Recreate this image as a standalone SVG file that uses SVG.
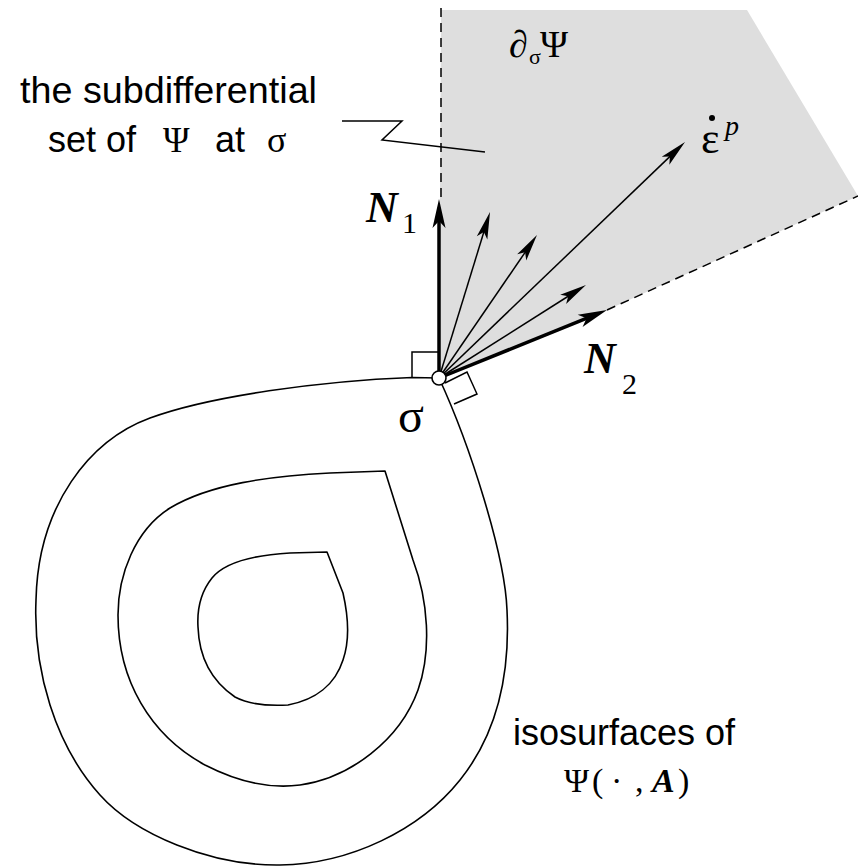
<svg xmlns="http://www.w3.org/2000/svg" width="858" height="866" viewBox="0 0 858 866">
<style>
.curve{fill:none;stroke:#000;stroke-width:1.6;stroke-linejoin:round}
.thin{stroke:#000;stroke-width:1.5;fill:none}
.thick{stroke:#000;stroke-width:3.5;fill:none}
.dash{stroke:#000;stroke-width:1.5;fill:none;stroke-dasharray:9 6}
.sans{font-family:"Liberation Sans",Arial,sans-serif;font-size:36px;fill:#000}
.serif{font-family:"Liberation Serif","Times New Roman",serif;fill:#000}
.bi{font-weight:bold;font-style:italic}
</style>
<defs>
<marker id="ah" viewBox="-30 -8 32 16" markerWidth="32" markerHeight="16" markerUnits="userSpaceOnUse" orient="auto" refX="-15" refY="0" overflow="visible">
<path d="M0,0 L-27,-5.5 L-21,0 L-27,5.5 Z" fill="#000"/>
</marker>
<marker id="ahb" viewBox="-30 -8 32 16" markerWidth="32" markerHeight="16" markerUnits="userSpaceOnUse" orient="auto" refX="-15" refY="0" overflow="visible">
<path d="M0,0 L-29,-6.5 L-22,0 L-29,6.5 Z" fill="#000"/>
</marker>
</defs>
<rect width="858" height="866" fill="#fff"/>
<g id="subdifferential-set">
<polygon points="441,10 747,10 858,196 607,310 439,378" fill="#dedede"/>
<line class="dash" x1="441" y1="8" x2="441" y2="198"/>
<line class="dash" x1="607" y1="310" x2="858" y2="196"/>
<text class="serif" font-size="38" x="509" y="57">∂</text>
<text class="serif" font-size="22" x="529" y="64">σ</text>
<text class="serif" font-size="38" x="540" y="57">Ψ</text>
</g>
<g id="isosurfaces">
<path class="curve" d="M439,378 L412,377.5 C320,381 210,396 150,418 C90,440 38,505 36,600 C33,670 55,745 100,795 C135,834 210,866 280,865 C350,864 420,830 460,780 C500,730 510,670 507,610 C505,555 470,445 439,378 Z"/>
<path class="curve" d="M385,471 L330,473 C270,476 210,484 170,508 C135,530 118,575 118,615 C118,680 150,735 205,765 C240,783 270,789 300,785 C350,778 400,740 418,690 C432,650 428,600 413,560 Z"/>
<path class="curve" d="M327,552 L290,553 C255,555 225,562 212,578 C200,593 197,610 198,627 C199,655 210,680 235,697 C250,705 270,706 288,705 C315,700 335,685 343,660 C350,640 348,615 343,593 Z"/>
<text class="sans" x="513" y="745">isosurfaces of</text>
<text class="serif" font-size="34" y="792"><tspan x="564">Ψ</tspan><tspan x="592">(</tspan><tspan x="611">·</tspan><tspan x="635">,</tspan><tspan x="652" class="bi">A</tspan><tspan x="678">)</tspan></text>
</g>
<g id="right-angles">
<polyline class="thin" points="439,352 412,352 412,377.5"/>
<polyline class="thin" points="445,383 467,372 477,394 454,404"/>
</g>
<g id="connectors">
<line class="thick" x1="439" y1="378" x2="439" y2="214" marker-end="url(#ahb)"/>
<line class="thin" x1="439" y1="378" x2="485.6" y2="226.3" marker-end="url(#ah)"/>
<line class="thin" x1="439" y1="378" x2="528.5" y2="247.4" marker-end="url(#ah)"/>
<line class="thin" x1="439" y1="378" x2="674.2" y2="152.4" marker-end="url(#ah)"/>
<line class="thin" x1="439" y1="378" x2="573.3" y2="293" marker-end="url(#ah)"/>
<line class="thick" x1="439" y1="378" x2="593.1" y2="315.6" marker-end="url(#ahb)"/>
<polyline class="thin" points="342,121 402,121 382,140 485,152"/>
</g>
<g id="sigma-point">
<circle cx="439" cy="378" r="7" fill="#fff" stroke="#000" stroke-width="1.6"/>
<text class="serif" font-size="48" x="398" y="432">σ</text>
</g>
<g id="N1">
<text class="serif bi" font-size="44" x="366" y="222">N</text>
<text class="serif" font-size="30" x="402" y="233">1</text>
</g>
<g id="N2">
<text class="serif bi" font-size="44" x="584" y="373">N</text>
<text class="serif" font-size="30" x="622" y="394">2</text>
</g>
<g id="plastic-strain">
<text class="serif" font-size="44" x="701" y="153">ε</text>
<circle cx="712" cy="118" r="3" fill="#000"/>
<text class="serif" font-size="28" font-style="italic" x="725" y="135">p</text>
</g>
<g id="label-subdifferential">
<text class="sans" x="20" y="103" textLength="297" lengthAdjust="spacingAndGlyphs">the subdifferential</text>
<text class="sans" x="48" y="152">set of</text>
<text class="serif" font-size="36" x="163" y="152">Ψ</text>
<text class="sans" x="215" y="152">at</text>
<text class="serif" font-size="36" x="267" y="152">σ</text>
</g>
</svg>
